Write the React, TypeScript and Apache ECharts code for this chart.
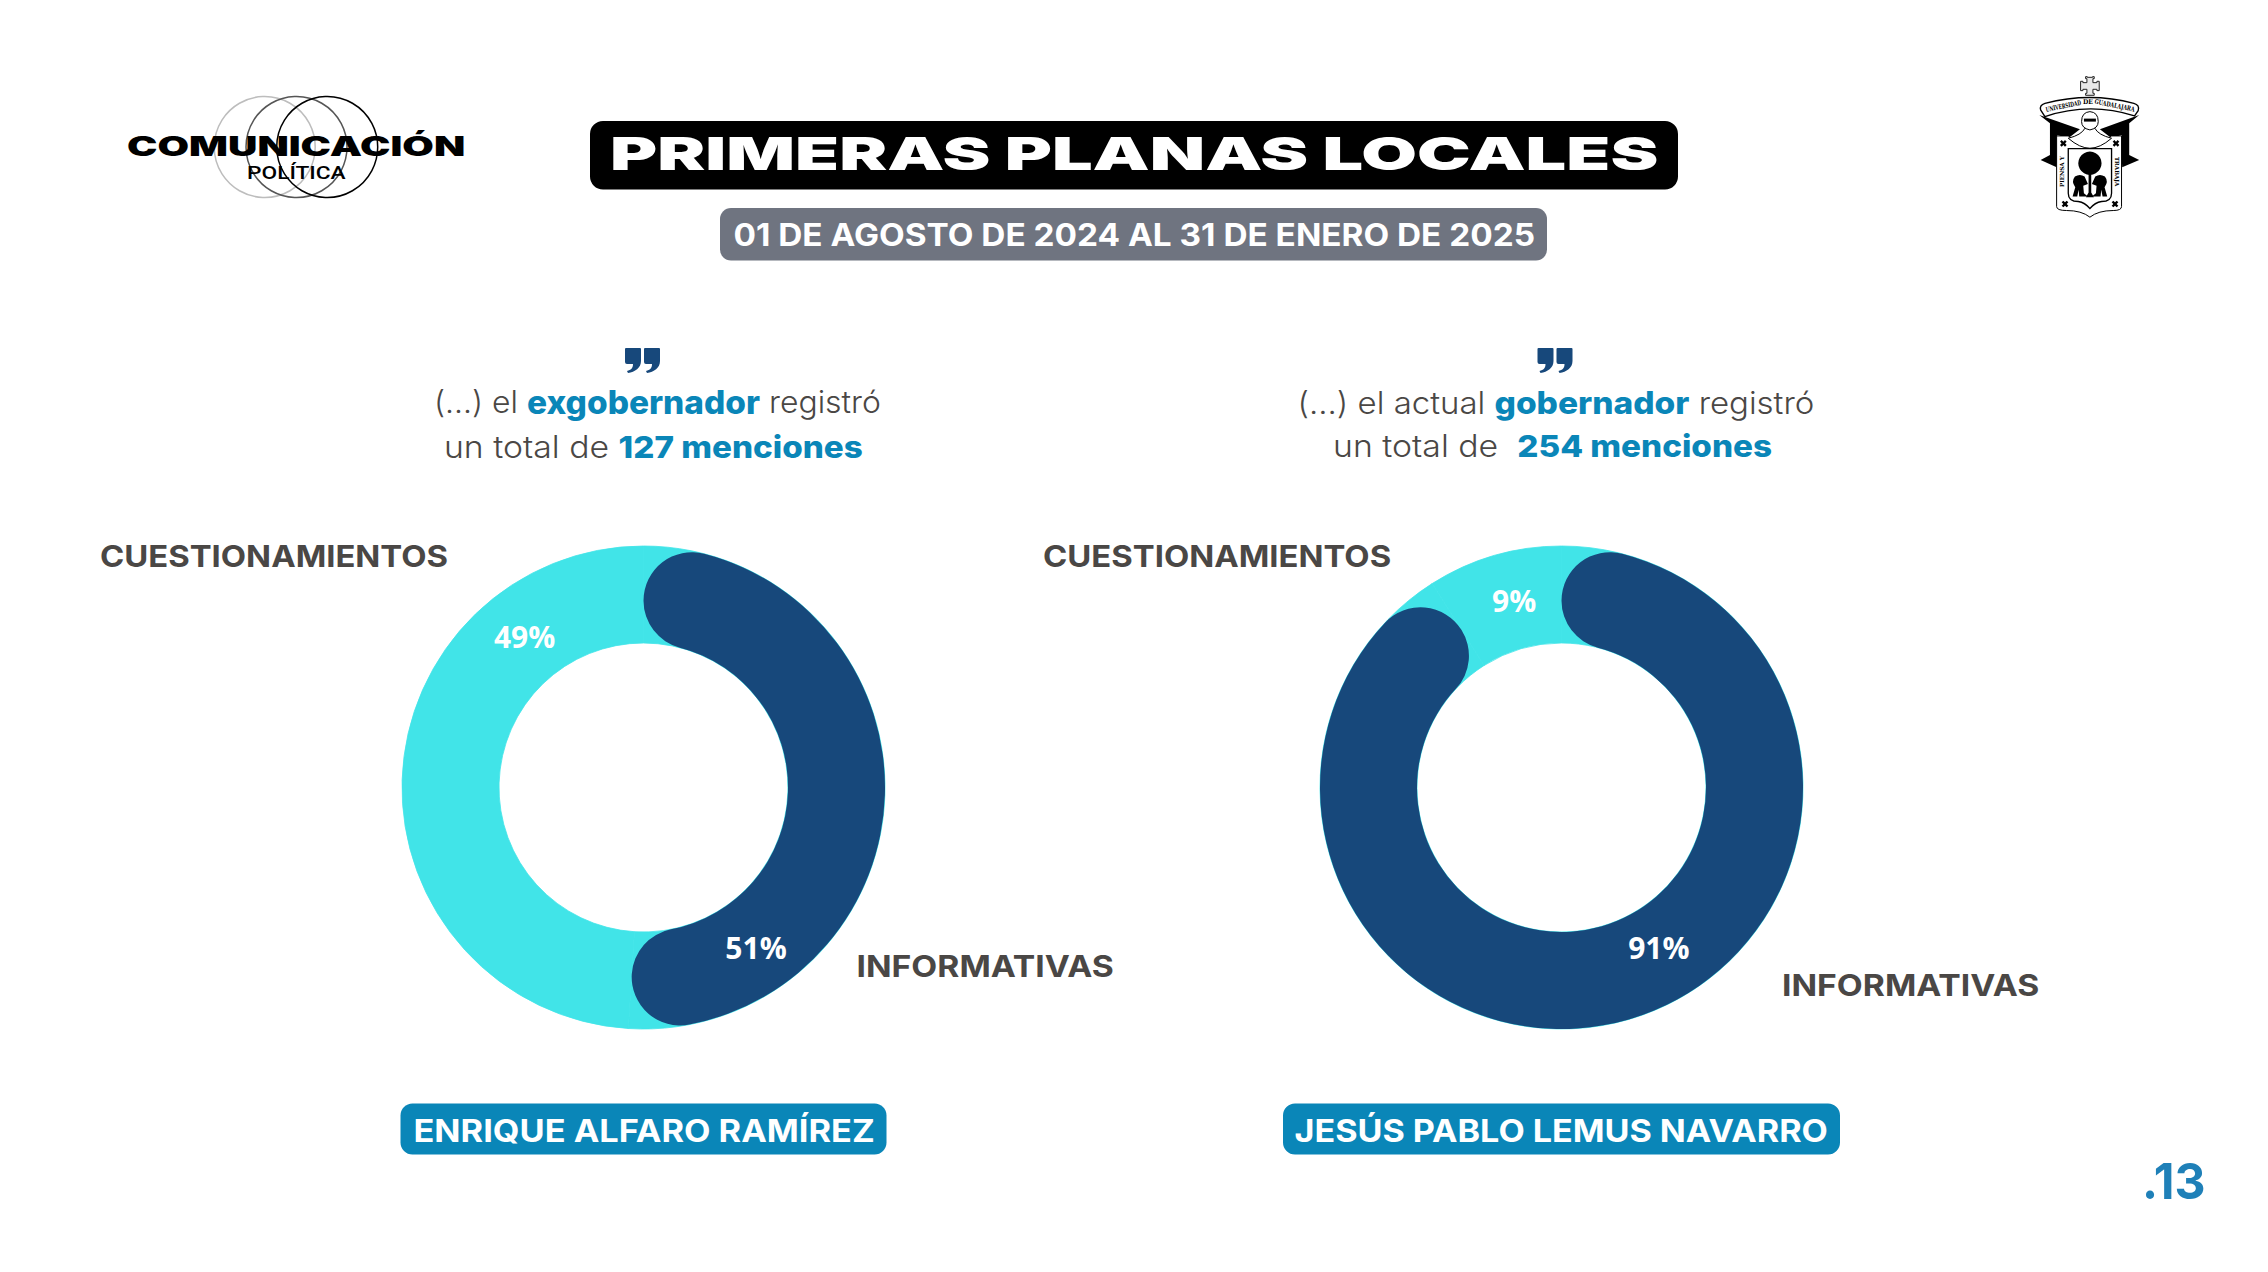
import React, { useEffect, useRef } from "react";
import * as echarts from "echarts";

const sliceNames = ["INFORMATIVAS", "CUESTIONAMIENTOS"];
const alfaroValues = [51, 49];
const lemusValues = [91, 9];
const titleText = "PRIMERAS PLANAS LOCALES";
const periodText = "01 DE AGOSTO DE 2024 AL 31 DE ENERO DE 2025";
const alfaroName = "ENRIQUE ALFARO RAMÍREZ";
const lemusName = "JESÚS PABLO LEMUS NAVARRO";
const pageNumber = ".13";

const DARK = "#17487B";
const CYAN = "#41E4E8";
const TEAL = "#0A86B8";
const GREY = "#4A4745";
const SANS = "Inter";

echarts.graphic.registerShape("quoteMark", echarts.graphic.extendPath(
  "M1,0 H15 Q16,0 16,1 V13 C16,20 10,24 3,25 L2,23 C6,22 8,20 8,16 H2 Q0,16 0,14 V1 Q0,0 1,0 Z", {}));
echarts.graphic.registerShape("crestCross", echarts.graphic.extendPath(
  "M262,52 h16 v-2 h5 v6 h-4 v12 h12 v-4 h7 v28 h-7 v-4 h-12 v12 h4 v6 h-26 v-6 h4 v-12 h-12 v4 h-7 v-28 h7 v4 h12 v-12 h-4 v-6 h5 z", {}));
echarts.graphic.registerShape("crestRibbon", echarts.graphic.extendPath(
  "M122,150 Q118,135 135,130 Q270,95 402,130 Q420,135 415,152 L404,168 Q270,125 135,170 Z", {}));
echarts.graphic.registerShape("crestBandLeft", echarts.graphic.extendPath(
  "M118,165 L240,208 L205,235 L172,225 V285 L170,322 L122,300 L150,285 V190 Z", {}));
echarts.graphic.registerShape("crestBandRight", echarts.graphic.extendPath(
  "M418,165 L300,208 L335,235 L365,225 V285 L367,322 L418,300 L388,285 V190 Z", {}));
echarts.graphic.registerShape("crestShield", echarts.graphic.extendPath(
  "M170,228 H205 Q270,285 335,228 H365 V440 Q365,452 340,452 Q295,452 270,472 Q245,452 200,452 Q170,452 170,440 Z", {}));
echarts.graphic.registerShape("crestInner", echarts.graphic.extendPath(
  "M205,266 H335 V400 Q335,425 305,425 Q285,428 270,446 Q255,428 235,425 Q205,425 205,400 Z", {}));
echarts.graphic.registerShape("crestMantle", echarts.graphic.extendPath(
  "M205,235 Q245,225 255,205 H285 Q295,225 335,235 Q300,265 270,265 Q240,265 205,235 Z", {}));
echarts.graphic.registerShape("crestHelmet", echarts.graphic.extendPath(
  "M270,155 Q295,157 295,185 Q295,205 270,210 Q245,205 245,185 Q245,157 270,155 Z", {}));
echarts.graphic.registerShape("crestLionLeft", echarts.graphic.extendPath(
  "M225,350 Q240,340 254,350 L264,372 L250,378 L252,400 L264,410 H238 L236,390 L232,410 H218 L226,382 Q213,365 225,350 Z", {}));
echarts.graphic.registerShape("crestLionRight", echarts.graphic.extendPath(
  "M315,350 Q300,340 286,350 L276,372 L290,378 L288,400 L276,410 H302 L304,390 L308,410 H322 L314,382 Q327,365 315,350 Z", {}));
echarts.graphic.registerShape("crestTrunk", echarts.graphic.extendPath(
  "M266,340 H274 V398 L282,412 H258 L266,398 Z", {}));
echarts.graphic.registerShape("crestStar", echarts.graphic.extendPath(
  "M-5,-10 L0,-5 L5,-10 L10,-5 L5,0 L10,5 L5,10 L0,5 L-5,10 L-10,5 L-5,0 L-10,-5 Z", {}));

const ctx = document.createElement("canvas").getContext("2d")!;
const measure = (text: string, size: number, weight: number | string, family = SANS) => {
  ctx.font = `${weight} ${size}px ${family}`;
  return ctx.measureText(text).width;
};

function fitText(text: string, x0: number, x1: number, cy: number, size: number, weight: number, fill: string, family = SANS, extra: any = {}) {
  const w = measure(text, size, weight, family);
  return {
    type: "text",
    x: x0,
    y: cy,
    scaleX: (x1 - x0) / w,
    style: { text, x: 0, y: 0, fontFamily: family, fontSize: size, fontWeight: weight, fill, align: "left", verticalAlign: "middle", ...extra },
  };
}

type Run = [string, boolean];
function richLine(runs: Run[], x0: number, x1: number, cy: number, boldSize: number) {
  const size = 31;
  const w = runs.reduce((s, [t, b]) => s + measure(t, b ? boldSize : size, b ? 800 : 300), 0);
  return {
    type: "text",
    x: x0,
    y: cy,
    scaleX: (x1 - x0) / w,
    style: {
      text: runs.map(([t, b]) => `{${b ? "b" : "a"}|${t}}`).join(""),
      x: 0,
      y: 0,
      align: "left",
      verticalAlign: "middle",
      rich: {
        a: { fontFamily: SANS, fontSize: size, fontWeight: 300, fill: GREY, color: GREY },
        b: { fontFamily: SANS, fontSize: boldSize, fontWeight: 800, fill: TEAL, color: TEAL },
      },
    },
  };
}

function crest() {
  const st = (fill: string, stroke = "#000", lineWidth = 2.5) => ({ fill, stroke, lineWidth });
  const star = (x: number, y: number) => ({ type: "crestStar", x, y, style: { fill: "#000" } });
  const serif = "DejaVu Serif";
  const word = (text: string, cx: number, cy: number, width: number, rotation: number) => ({
    type: "text",
    x: cx,
    y: cy,
    rotation,
    scaleX: width / measure(text, 20, 700, serif),
    style: { text, fontFamily: serif, fontWeight: 700, fontSize: 20, fill: "#000", align: "center", verticalAlign: "middle" },
  });
  return {
    type: "group",
    x: 2000,
    y: 60,
    scaleX: 1 / 3,
    scaleY: 1 / 3,
    children: [
      { type: "crestCross", style: st("#e8e8e8", "#222", 3) },
      { type: "crestBandLeft", style: { fill: "#000" } },
      { type: "crestBandRight", style: { fill: "#000" } },
      { type: "crestRibbon", style: st("#fff", "#000", 4) },
      word("UNIVERSIDAD", 190, 138, 108, 0.2),
      word("DE", 264, 126, 30, 0),
      word("GUADALAJARA", 344, 136, 122, -0.2),
      { type: "crestShield", style: st("#fff", "#000", 3) },
      { type: "crestMantle", style: st("#fff", "#000", 3) },
      { type: "crestHelmet", style: st("#fff", "#000", 3) },
      { type: "rect", shape: { x: 252, y: 176, width: 36, height: 9 }, style: { fill: "#000" } },
      { type: "crestInner", style: st("#fff", "#000", 4) },
      { type: "circle", shape: { cx: 270, cy: 310, r: 35 }, style: { fill: "#000" } },
      { type: "crestTrunk", style: { fill: "#000" } },
      { type: "crestLionLeft", style: { fill: "#000" } },
      { type: "crestLionRight", style: { fill: "#000" } },
      star(190, 250), star(348, 250), star(195, 432), star(345, 432),
      { type: "text", x: 187, y: 335, rotation: Math.PI / 2, style: { text: "PIENSA Y", fontFamily: serif, fontWeight: 700, fontSize: 17, fill: "#000", align: "center", verticalAlign: "middle" } },
      { type: "text", x: 352, y: 335, rotation: -Math.PI / 2, style: { text: "TRABAJA", fontFamily: serif, fontWeight: 700, fontSize: 17, fill: "#000", align: "center", verticalAlign: "middle" } },
    ],
  };
}

function donutSeries(values: number[], center: number[], labelCenters: number[][]) {
  const radius = [144.5, 241.5];
  const common = { type: "pie", center, radius, startAngle: 90, clockwise: true, silent: true, emphasis: { disabled: true }, labelLine: { show: false } };
  return [
    {
      ...common,
      z: 2,
      label: { show: false },
      data: values.map((value, i) => ({ name: sliceNames[i], value, itemStyle: { color: CYAN, borderColor: CYAN, borderWidth: 0.8 } })),
    },
    {
      ...common,
      z: 3,
      label: { show: true, position: "inside", formatter: "{c}%", color: "#fff", fontFamily: "Open Sans", fontWeight: 700, fontSize: 30 },
      labelLayout: (p: any) => ({ x: labelCenters[p.dataIndex][0], y: labelCenters[p.dataIndex][1], align: "center", verticalAlign: "middle" }),
      data: values.map((value, i) => ({
        name: sliceNames[i],
        value,
        itemStyle: i === 0 ? { color: DARK, borderRadius: 48.5 } : { color: "rgba(0,0,0,0)" },
      })),
    },
  ];
}

function buildOption() {
  const pill = (x0: number, x1: number, y0: number, y1: number, r: number, fill: string) => ({
    type: "rect",
    shape: { x: x0, y: y0, width: x1 - x0, height: y1 - y0, r },
    style: { fill },
  });
  const quote = (x: number) => [
    { type: "quoteMark", x, y: 348, style: { fill: DARK } },
    { type: "quoteMark", x: x + 19, y: 348, style: { fill: DARK } },
  ];
  const ring = (cx: number, stroke: string) => ({
    type: "circle",
    shape: { cx, cy: 147, r: 50.5 },
    style: { fill: "none", stroke, lineWidth: 1.5 },
  });
  return {
    animation: false,
    backgroundColor: "#fff",
    series: [
      ...donutSeries(alfaroValues, [643.5, 787.5], [[756, 947.3], [524.6, 636.7]]),
      ...donutSeries(lemusValues, [1561.5, 787.5], [[1658.8, 947.3], [1514.2, 600.7]]),
    ],
    graphic: {
      elements: [
        ring(264.7, "#bdbdbd"),
        ring(296.5, "#555"),
        ring(327.2, "#000"),
        fitText("COMUNICACIÓN", 127, 465.5, 146.5, 26.5, 900, "#000"),
        fitText("POLÍTICA", 247, 345.7, 172.5, 18, 500, "#000", "Roboto"),
        pill(590, 1678, 121, 189.5, 13, "#000"),
        fitText(titleText, 610, 1659, 153, 46, 900, "#fff"),
        pill(720, 1547, 208, 260.5, 11, "#6F7480"),
        fitText(periodText, 733.5, 1535.5, 234.5, 31, 700, "#fff"),
        crest(),
        ...quote(625),
        ...quote(1537.5),
        richLine([["(...) el ", false], ["exgobernador", true], [" registró", false]], 434, 881, 402.5, 32.5),
        richLine([["un total de ", false], ["127 menciones", true]], 444, 863, 446.5, 30.5),
        richLine([["(...) el actual ", false], ["gobernador", true], [" registró", false]], 1297.5, 1814.5, 402.5, 31.5),
        richLine([["un total de  ", false], ["254 menciones", true]], 1333, 1772, 446.5, 30.5),
        fitText(sliceNames[1], 100, 448, 556.5, 30, 700, GREY),
        fitText(sliceNames[1], 1043, 1391.5, 556.5, 30, 700, GREY),
        fitText(sliceNames[0], 856.5, 1114, 966, 30, 700, GREY),
        fitText(sliceNames[0], 1782, 2039.5, 985.5, 30, 700, GREY),
        pill(400.5, 886.5, 1103.5, 1154.5, 12, TEAL),
        fitText(alfaroName, 413.5, 875, 1130.5, 31, 700, "#fff"),
        pill(1283, 1840, 1103.5, 1154.5, 12, TEAL),
        fitText(lemusName, 1294.5, 1828, 1130.5, 31, 700, "#fff"),
        fitText(pageNumber, 2142, 2205.5, 1181, 50, 700, "#1F80B8"),
      ],
    },
  };
}

export default function App() {
  const ref = useRef<HTMLDivElement>(null);
  useEffect(() => {
    document.body.style.margin = "0";
    const chart = echarts.init(ref.current!, undefined, { renderer: "svg" });
    chart.setOption(buildOption() as any);
    return () => chart.dispose();
  }, []);
  return <div ref={ref} style={{ width: 2268, height: 1272, background: "#fff" }} />;
}
